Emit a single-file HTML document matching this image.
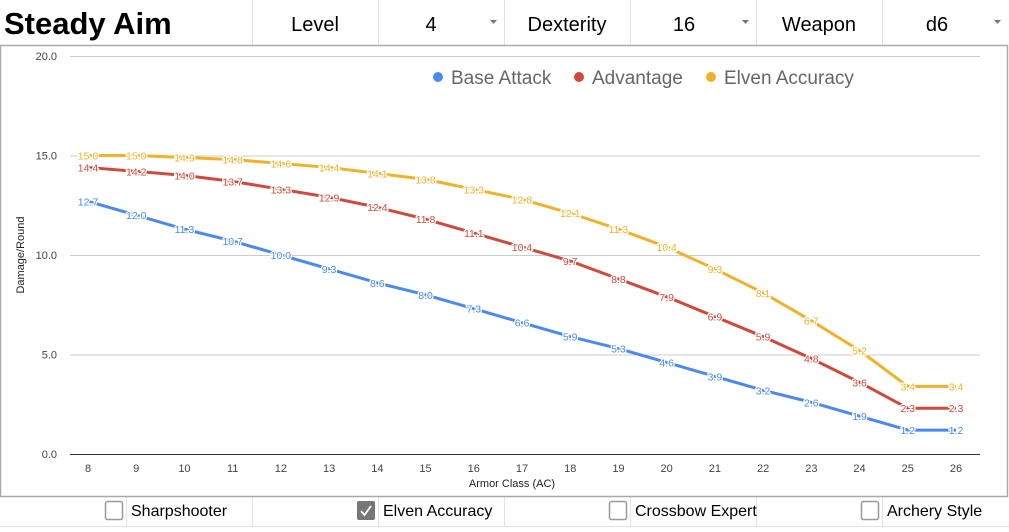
<!DOCTYPE html>
<html><head><meta charset="utf-8"><style>
body{margin:0;width:1009px;height:527px;overflow:hidden;background:#fff;font-family:"Liberation Sans",sans-serif}
</style></head><body>
<svg id="s" width="1009" height="527" xmlns="http://www.w3.org/2000/svg" font-family="Liberation Sans, sans-serif">
<rect x="0" y="0" width="1009" height="527" fill="#fff"/>
<g stroke="#e2e2e2" stroke-width="1">
<line x1="252.5" y1="0" x2="252.5" y2="45"/><line x1="378.5" y1="0" x2="378.5" y2="45"/><line x1="504.5" y1="0" x2="504.5" y2="45"/><line x1="630.5" y1="0" x2="630.5" y2="45"/><line x1="756.5" y1="0" x2="756.5" y2="45"/><line x1="882.5" y1="0" x2="882.5" y2="45"/>
<line x1="126.5" y1="497" x2="126.5" y2="527"/><line x1="252.5" y1="497" x2="252.5" y2="527"/><line x1="378.5" y1="497" x2="378.5" y2="527"/><line x1="504.5" y1="497" x2="504.5" y2="527"/><line x1="630.5" y1="497" x2="630.5" y2="527"/><line x1="756.5" y1="497" x2="756.5" y2="527"/><line x1="882.5" y1="497" x2="882.5" y2="527"/>
<line x1="0" y1="526.5" x2="1009" y2="526.5"/>
</g>
<rect x="0.5" y="45.5" width="1007" height="451" fill="none" stroke="#aaa" stroke-width="1.5"/>
<text x="4" y="34" font-size="31" font-weight="bold" fill="#000">Steady Aim</text>
<g font-size="20" fill="#000" text-anchor="middle">
<text x="315" y="31">Level</text><text x="431" y="31">4</text>
<text x="567" y="31">Dexterity</text><text x="684" y="31">16</text>
<text x="819" y="31">Weapon</text><text x="937" y="31">d6</text>
</g>
<g fill="#777"><path d="M490 20h7l-3.5 4z"/><path d="M742 20h7l-3.5 4z"/><path d="M994 20h7l-3.5 4z"/></g>
<g id="plot"></g>
<g font-size="16" fill="#000">
<rect x="105.5" y="501.5" width="17" height="18" rx="2" fill="#fff" stroke="#999" stroke-width="1.5"/><text x="131" y="516">Sharpshooter</text>
<rect x="357" y="501" width="18" height="19" rx="2" fill="#777"/><path d="M361 511l3.5 4 6.5-9" stroke="#fff" stroke-width="1.8" fill="none"/><text x="383" y="516">Elven Accuracy</text>
<rect x="609.5" y="501.5" width="17" height="18" rx="2" fill="#fff" stroke="#999" stroke-width="1.5"/><text x="635" y="516">Crossbow Expert</text>
<rect x="861.5" y="501.5" width="17" height="18" rx="2" fill="#fff" stroke="#999" stroke-width="1.5"/><text x="887" y="516">Archery Style</text>
</g>
</svg>
<script>
var NS="http://www.w3.org/2000/svg",g=document.getElementById("plot");
function el(t,a,txt){var e=document.createElementNS(NS,t);for(var k in a)e.setAttribute(k,a[k]);if(txt!=null)e.textContent=txt;g.appendChild(e);return e;}
var X=function(i){return 88+i*868/18},Y=function(v){return 454-v*19.9};
[0,5,10,15,20].forEach(function(v){el("line",{x1:70,x2:980,y1:Y(v)+.5,y2:Y(v)+.5,stroke:v?"#ccc":"#333","stroke-width":1});
el("text",{x:57,y:Y(v)+4,"font-size":11,fill:"#444","text-anchor":"end"},v.toFixed(1));});
for(var i=0;i<19;i++)el("text",{x:X(i),y:472,"font-size":11,fill:"#444","text-anchor":"middle"},8+i);
el("text",{x:512,y:487,"font-size":11,fill:"#222","text-anchor":"middle"},"Armor Class (AC)");
el("text",{x:24,y:255,"font-size":11,fill:"#222","text-anchor":"middle",transform:"rotate(-90 24 255)"},"Damage/Round");
var S=[["#4a8af0",[12.7,12.0,11.3,10.7,10.0,9.3,8.6,8.0,7.3,6.6,5.9,5.3,4.6,3.9,3.2,2.6,1.9,1.2,1.2]],
["#cf4a3c",[14.4,14.2,14.0,13.7,13.3,12.9,12.4,11.8,11.1,10.4,9.7,8.8,7.9,6.9,5.9,4.8,3.6,2.3,2.3]],
["#f0b22a",[15.0,15.0,14.9,14.8,14.6,14.4,14.1,13.8,13.3,12.8,12.1,11.3,10.4,9.3,8.1,6.7,5.2,3.4,3.4]]];
S.forEach(function(s){var p=s[1].map(function(v,i){return X(i)+","+Y(v)}).join(" ");
el("polyline",{points:p,fill:"none",stroke:s[0],"stroke-width":3,"stroke-linejoin":"round"});});
S.forEach(function(s){s[1].forEach(function(v,i){el("text",{x:X(i),y:Y(v)+4,"font-size":10.5,fill:s[0],"text-anchor":"middle",stroke:"#fff","stroke-width":2.5,"paint-order":"stroke"},v.toFixed(1));});});
var L=[["Base Attack",432,"#4a8af0"],["Advantage",573,"#cf4a3c"],["Elven Accuracy",705,"#f0b22a"]];
L.forEach(function(l){el("circle",{cx:l[1]+6,cy:77,r:5,fill:l[2]});el("text",{x:l[1]+19,y:84,"font-size":19,fill:"#666"},l[0]);});
</script>
</body></html>
